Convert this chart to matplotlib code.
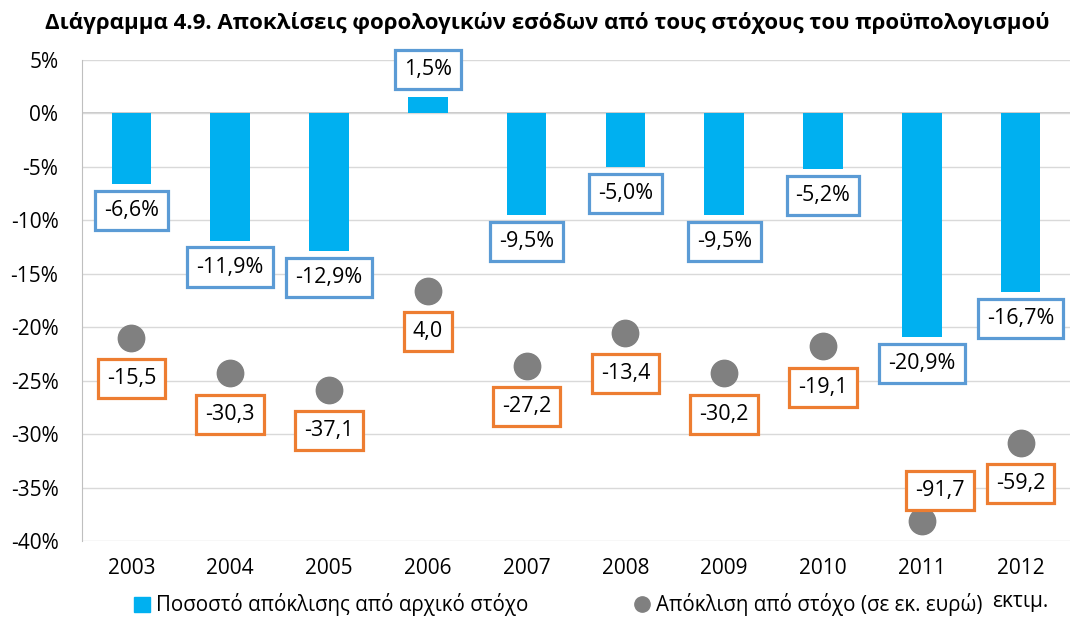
import matplotlib.pyplot as plt
from matplotlib.lines import Line2D
from matplotlib.patches import Patch

plt.rcParams['font.family'] = ['Open Sans', 'DejaVu Sans']

years = ['2003', '2004', '2005', '2006', '2007', '2008', '2009', '2010', '2011', '2012\nεκτιμ.']
pct_dev = [-6.6, -11.9, -12.9, 1.5, -9.5, -5.0, -9.5, -5.2, -20.9, -16.7]
eur_dev = [-15.5, -30.3, -37.1, 4.0, -27.2, -13.4, -30.2, -19.1, -91.7, -59.2]

title = 'Διάγραμμα 4.9. Αποκλίσεις φορολογικών εσόδων από τους στόχους του προϋπολογισμού'
bar_name = 'Ποσοστό απόκλισης από αρχικό στόχο'
dot_name = 'Απόκλιση από στόχο (σε εκ. ευρώ)'

BLUE = '#00B0F0'
BOX_BLUE = '#5B9BD5'
BOX_ORANGE = '#ED7D31'
GREY = '#808080'

fig = plt.figure(figsize=(10.72, 6.17), dpi=100)
ax = fig.add_axes([82/1072, 1-541/617, (1070-82)/1072, (541-60)/617])
x = list(range(len(years)))

ax.bar(x, pct_dev, width=0.4, color=BLUE, zorder=2)
ax.set_ylim(-40, 5)
ax.set_xlim(-0.5, len(years)-0.5)
ax.set_yticks(range(-40, 6, 5))
ax.set_yticklabels([f'{v}%' for v in range(-40, 6, 5)])
ax.set_xticks(x)
ax.set_xticklabels(years, linespacing=1.75)
ax.tick_params(axis='y', length=0, pad=17, labelsize=15)
ax.tick_params(axis='x', length=0, pad=12, labelsize=15)
ax.grid(axis='y', color='#D9D9D9', linewidth=1, zorder=0)
for s in ['top', 'right', 'bottom']:
    ax.spines[s].set_visible(False)
ax.spines['left'].set_color('#BFBFBF')
ax.axhline(0, color='#BFBFBF', linewidth=1.2, zorder=1)

for xi, v in zip(x, pct_dev):
    off = 20 if v > 0 else -19
    ax.annotate(f'{v:.1f}%'.replace('.', ','), (xi, v), xytext=(0, off),
                textcoords='offset points', ha='center', va='center', fontsize=15.5,
                bbox=dict(boxstyle='square,pad=0.42', fc='white', ec=BOX_BLUE, lw=2.3),
                zorder=5)

ax2 = ax.twinx()
ax2.set_ylim(-100, 100)
ax2.axis('off')
ax2.plot(x, eur_dev, 'o', color=GREY, markersize=19, zorder=3)
for xi, v in zip(x, eur_dev):
    if v < -80:
        xy_off = (13, 22)
    else:
        xy_off = (0, -29.5)
    ax2.annotate(f'{v:.1f}'.replace('.', ','), (xi, v), xytext=xy_off,
                 textcoords='offset points', ha='center', va='center', fontsize=15.5,
                 bbox=dict(boxstyle='square,pad=0.42', fc='white', ec=BOX_ORANGE, lw=2.3),
                 zorder=5)

fig.text(547/1072, 1-23/617, title, ha='center', va='center', fontsize=16, fontweight='bold')

h1 = Patch(color=BLUE)
h2 = Line2D([], [], marker='o', color=GREY, linestyle='none', markersize=11)
kw = dict(frameon=False, fontsize=14.8, handlelength=0.75, handletextpad=0.3, borderpad=0)
fig.legend([h1], [bar_name], loc='center left', bbox_to_anchor=(124/1072, 1-605/617), **kw)
fig.legend([h2], [dot_name], loc='center left', bbox_to_anchor=(624/1072, 1-605/617), **kw)

fig.savefig('out.png', dpi=100)
